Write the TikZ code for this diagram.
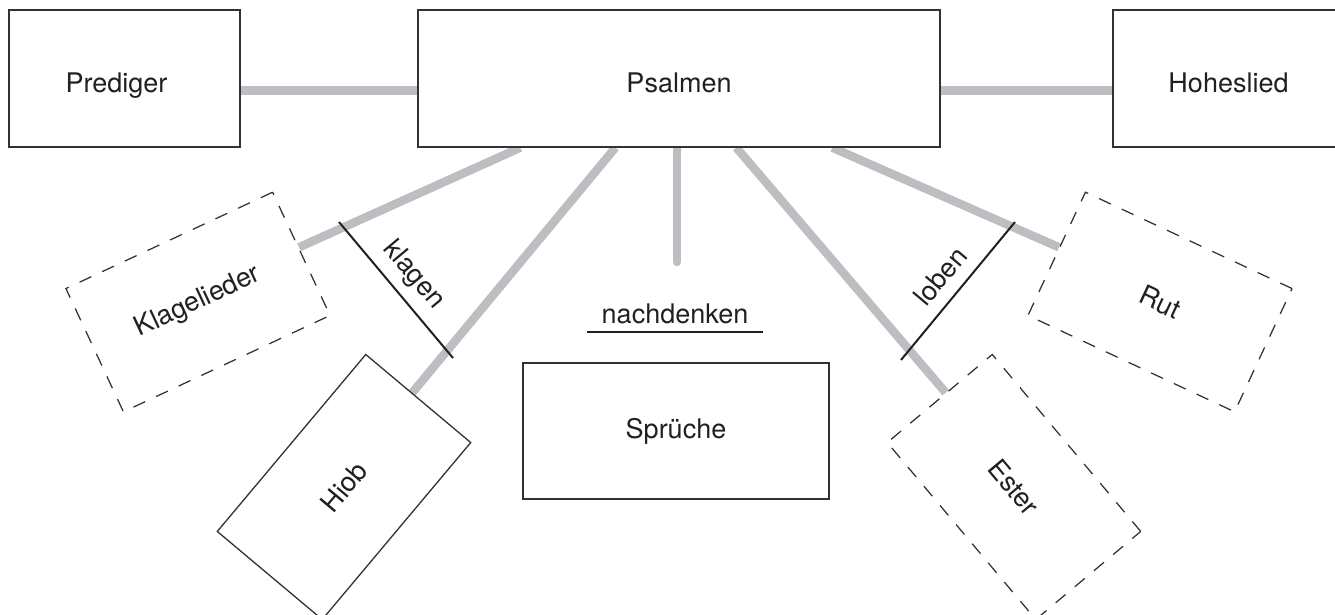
\documentclass[tikz,border=0pt]{standalone}
\usepackage{fontspec}
\setmainfont{TeX Gyre Heros}
\usetikzlibrary{calc,backgrounds}
\definecolor{linkgray}{RGB}{189,190,194}
\definecolor{ink}{RGB}{35,31,32}
\definecolor{frame}{RGB}{50,50,50}
\begin{document}
\begin{tikzpicture}[x=1pt,y=-1pt,
  font=\fontsize{27}{31}\selectfont, text=ink,
  book/.style={draw=frame, line width=1.3pt, fill=white, inner sep=0pt,
               minimum width=231pt, minimum height=137pt},
  topbook/.style={book, text height=83pt, text depth=54pt},
  optbook/.style={book, dash pattern=on 13pt off 12pt, line width=1.25pt},
  link/.style={draw=linkgray, line width=8.5pt},
  tick/.style={draw=ink, line width=2pt},
  verblabel/.style={inner sep=0pt}]
\useasboundingbox (0,0) rectangle (1335,615);

% the three books of the top row
\node[topbook] (prediger) at (124.5,78.5) {Prediger\hspace*{16pt}};
\node[topbook, minimum width=522pt] (psalmen) at (679,78.5) {Psalmen};
\node[topbook] (hoheslied) at (1228.5,78.5) {Hoheslied};

% the books round the Psalms
\node[book, minimum width=306pt, minimum height=136pt] (sprueche) at (676,431) {Sprüche};
\node[optbook, rotate=25, minimum width=228pt, minimum height=136pt] (klagelieder) at (198,302) {Klagelieder};
\node[optbook, rotate=-25, minimum width=228pt, minimum height=136pt] (rut) at (1160,302) {Rut};
\node[book, rotate=50] (hiob) at (344,487) {Hiob};
\node[optbook, rotate=-50] (ester) at (1014,487) {Ester};

% grey links, kept behind the boxes
\coordinate (reflect) at (677,262);
\begin{scope}[on background layer]
  \draw[link] (prediger.mid east) -- (psalmen.mid west);
  \draw[link] (psalmen.mid east) -- (hoheslied.mid west);
  \draw[link] ($(psalmen.south west)+(103,0)$) -- ($(klagelieder.north east)!0.45!(klagelieder.south east)$);
  \draw[link] ($(psalmen.south west)+(198,0)$) -- ($(hiob.north east)!0.44!(hiob.south east)$);
  \draw[link, line cap=round] (psalmen.south -| reflect) -- (reflect);
  \draw[link] ($(psalmen.south west)+(319,0)$) -- ($(ester.north west)!0.44!(ester.south west)$);
  \draw[link] ($(psalmen.south west)+(415,0)$) -- ($(rut.north west)!0.45!(rut.south west)$);
\end{scope}

% klagen
\coordinate (k1) at (339,222);
\coordinate (k2) at (453,358);
\draw[tick] (k1) -- (k2);
\node[verblabel, rotate=-50] (klagen) at ($(k1)!0.5!(k2)!23pt!90:(k2)$) {klagen};

% loben
\coordinate (l1) at (1015,222);
\coordinate (l2) at (901,360);
\draw[tick] (l1) -- (l2);
\node[verblabel, rotate=50] (loben) at ($(l1)!0.5!(l2)!23pt!-90:(l2)$) {loben};

% nachdenken, underlined
\node[verblabel, text depth=9pt, minimum width=175pt, anchor=base] (nachdenken) at (675,323) {nachdenken};
\draw[tick, line width=2.2pt] (nachdenken.south west) -- (nachdenken.south east);
\end{tikzpicture}
\end{document}
